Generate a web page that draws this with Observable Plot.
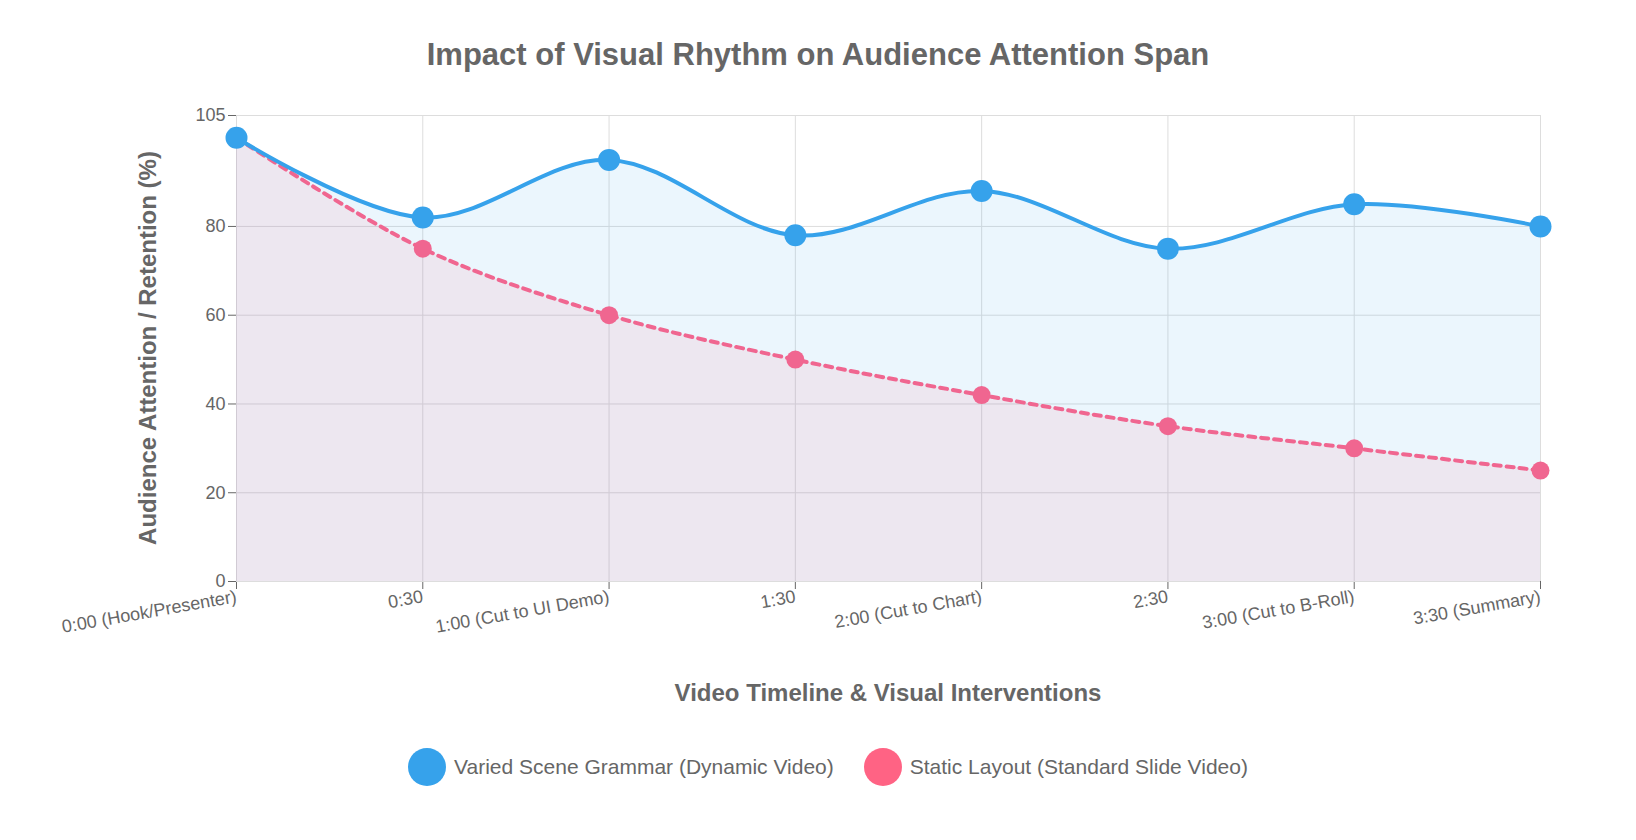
<!DOCTYPE html>
<html><head><meta charset="utf-8">
<script src="https://cdn.jsdelivr.net/npm/d3@7"></script>
<script src="https://cdn.jsdelivr.net/npm/@observablehq/plot@0.6"></script>
<style>
body{margin:0;background:#fff;font-family:"Helvetica Neue",Arial,"Liberation Sans",sans-serif;}
#title{height:90px;line-height:110px;text-align:center;font-size:31px;font-weight:bold;color:#666;}
#legend{display:flex;justify-content:center;gap:30px;margin-top:28px;font-size:21px;color:#666;padding-left:20px}
#legend span{display:flex;align-items:center;gap:8px}
#legend i{display:inline-block;width:38px;height:38px;border-radius:50%}
</style></head><body>
<div id="title">Impact of Visual Rhythm on Audience Attention Span</div>
<div id="chart"></div>
<div id="legend">
<span><i style="background:#36a2eb"></i>Varied Scene Grammar (Dynamic Video)</span>
<span><i style="background:#ff6384"></i>Static Layout (Standard Slide Video)</span>
</div>
<script>
const labels=["0:00 (Hook/Presenter)","0:30","1:00 (Cut to UI Demo)","1:30","2:00 (Cut to Chart)","2:30","3:00 (Cut to B-Roll)","3:30 (Summary)"];
const dynamicVals=[100,82,95,78,88,75,85,80];
const staticVals=[100,75,60,50,42,35,30,25];
const dyn=labels.map((l,i)=>({i,v:dynamicVals[i]}));
const sta=labels.map((l,i)=>({i,v:staticVals[i]}));
const p=Plot.plot({
 width:1636,height:630,marginTop:25,marginBottom:139,marginLeft:236,marginRight:96,
 style:{fontSize:"18px",color:"#666",fontFamily:"Helvetica Neue,Arial,Liberation Sans,sans-serif"},
 x:{domain:[0,7],ticks:d3.range(8),tickFormat:i=>labels[i],tickRotate:-10,label:null,tickSize:8},
 y:{domain:[0,105],ticks:[0,20,40,60,80,105],label:null,tickSize:8},
 marks:[
  Plot.gridX(d3.range(8),{stroke:"#ddd",strokeOpacity:1}),
  Plot.gridY([0,20,40,60,80,105],{stroke:"#ddd",strokeOpacity:1}),
  Plot.areaY(dyn,{x:"i",y:"v",curve:"catmull-rom",fill:"#36a2eb",fillOpacity:0.1}),
  Plot.areaY(sta,{x:"i",y:"v",curve:"catmull-rom",fill:"#ff6384",fillOpacity:0.1}),
  Plot.lineY(sta,{x:"i",y:"v",curve:"catmull-rom",stroke:"#f06690",strokeWidth:4,strokeDasharray:"7,6"}),
  Plot.dot(sta,{x:"i",y:"v",r:9,fill:"#f06690"}),
  Plot.lineY(dyn,{x:"i",y:"v",curve:"catmull-rom",stroke:"#36a2eb",strokeWidth:4}),
  Plot.dot(dyn,{x:"i",y:"v",r:11,fill:"#36a2eb"})
 ]
});
const s=d3.select(p);
s.selectAll("[aria-label='x-axis tick label'] text").attr("text-anchor","end");
s.append("text").attr("x",888).attr("y",611).attr("text-anchor","middle").attr("font-size",24).attr("font-weight","bold").attr("fill","#666").text("Video Timeline & Visual Interventions");
s.append("text").attr("transform","translate(156,258) rotate(-90)").attr("text-anchor","middle").attr("font-size",24).attr("font-weight","bold").attr("fill","#666").text("Audience Attention / Retention (%)");
document.getElementById("chart").appendChild(p);
</script></body></html>
